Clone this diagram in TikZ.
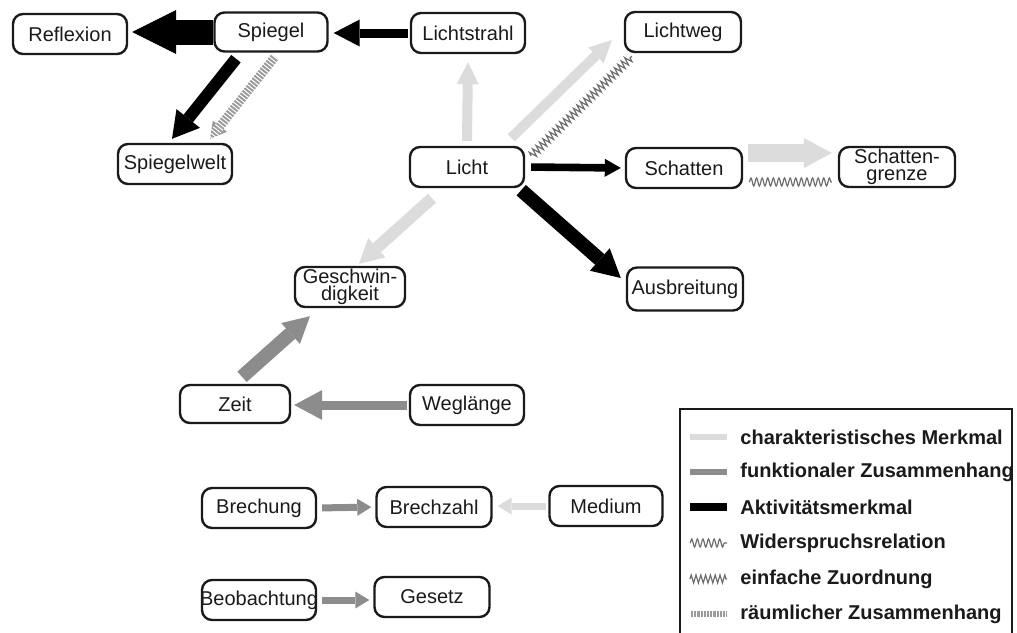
\documentclass[tikz,border=0pt]{standalone}
\usepackage{fontspec}
\setmainfont{Liberation Sans}
\usetikzlibrary{arrows.meta,calc,decorations.pathmorphing}
\definecolor{lgray}{HTML}{DCDCDC}
\definecolor{mgray}{HTML}{8C8C8C}
\definecolor{hgray}{HTML}{9A9A9A}
\definecolor{wgray}{HTML}{6E6E6E}
\definecolor{txt}{HTML}{1A1A1A}
\begin{document}
\begin{tikzpicture}[x=0.5pt,y=-0.5pt,
  box/.style={draw=txt, line width=1.2pt, rounded corners=5pt, fill=white, inner sep=0pt,
    minimum width=57pt, minimum height=20pt, font=\fontsize{10}{8.5}\selectfont, text=txt, align=center},
  fat/.style n args={4}{draw=#1, line width=#2, -{Triangle[length=#3,width=#4,line width=0pt]}},
  hatch/.style={draw=hgray, line width=4.5pt, -{Triangle[length=8pt,width=9pt,line width=0pt]},
    postaction={draw=white, line width=4.9pt, dash pattern=on 0.5pt off 1.1pt, arrows=-}},
  hatchline/.style={draw=hgray, line width=3pt,
    postaction={draw=white, line width=3.2pt, dash pattern=on 0.5pt off 1.1pt}},
  wavyA/.style={draw=wgray, line width=0.6pt, decorate, decoration={zigzag, segment length=2.4pt, amplitude=2pt}},
  wavyB/.style={draw=wgray, line width=0.6pt, decorate, decoration={snake, segment length=2.8pt, amplitude=2pt}},
  legtxt/.style={anchor=west, inner sep=0pt, font=\fontsize{10}{10}\selectfont\bfseries, text=txt}
]
\path[use as bounding box] (0,0) rectangle (1017,632);
\clip (0,0) rectangle (1017,632);

% nodes
\node[box] (refl) at (70,34) {Reflexion};
\node[box, minimum width=56.5pt, minimum height=19.5pt] (spiegel) at (271,32) {Spiegel};
\node[box] (lstrahl) at (468,33) {Lichtstrahl};
\node[box, minimum width=58pt] (lweg) at (683,32) {Lichtweg};
\node[box] (licht) at (467,167) {Licht};
\node[box] (swelt) at (175,164) {Spiegelwelt};
\node[box, minimum width=58pt] (schatten) at (684,168) {Schatten};
\node[box, minimum width=58pt] (sgrenze) at (897,167) {Schatten-\\grenze};
\node[box, minimum width=58pt, minimum height=21.5pt] (ausbr) at (685,289) {Ausbreitung};
\node[box, minimum width=55pt] (geschw) at (350,287) {Geschwin-\\digkeit};
\node[box, minimum width=55pt, minimum height=19pt] (zeit) at (235,404) {Zeit};
\node[box] (weg) at (467,405) {Weglänge};
\node[box] (brechung) at (259,508) {Brechung};
\node[box, minimum width=57.5pt] (brechzahl) at (434,507) {Brechzahl};
\node[box, minimum width=56.5pt] (medium) at (606,506) {Medium};
\node[box] (beob) at (259,600) {\makebox[0pt]{Beobachtung}};
\node[box, minimum width=57.5pt] (gesetz) at (432,597) {Gesetz};

% connectors
\draw[fat={black}{12.5pt}{22pt}{22pt}, shorten >=2pt] (spiegel.west) -- (spiegel.west -| refl.east);
\draw[fat={black}{4.5pt}{13pt}{13.5pt}, shorten <=1pt, shorten >=2.5pt] (lstrahl.west) -- (lstrahl.west -| spiegel.east);
\draw[fat={black}{6pt}{13pt}{15pt}] ($(spiegel.south)+(-35,6)$) -- ($(swelt.north)+(-3,-4)$);
\draw[hatch] ($(spiegel.south)+(4,4)$) -- ($(swelt.north)+(35,-4)$);
\draw[fat={lgray}{5pt}{11pt}{11pt}] ($(licht.north)+(0,-5)$) -- ($(lstrahl.south)+(0,8)$);
\draw[fat={lgray}{5pt}{11pt}{11pt}] ($(licht.north east)+(-14,-8)$) -- ($(lweg.west)+(-12,8)$);
\draw[wavyA] ($(licht.east)+(6,-11)$) -- ($(lweg.south west)+(8,3)$);
\draw[fat={black}{3.8pt}{8pt}{9pt}, shorten <=3pt, shorten >=2pt] (licht.east) -- (schatten.west);
\draw[fat={black}{7pt}{14pt}{15pt}] ($(licht.south east)+(-4,2)$) -- ($(ausbr.west)+(-5,-11)$);
\draw[fat={lgray}{9pt}{14pt}{15pt}] ($(schatten.east)+(5,-15)$) -- ($(sgrenze.west)+(-6,-14)$);
\draw[wavyB] ($(schatten.east)+(6,14)$) -- ($(sgrenze.west)+(-6,15)$);
\draw[fat={lgray}{6pt}{12pt}{13pt}] ($(licht.south)+(-35,10)$) -- ($(geschw.north)+(9,-2)$);
\draw[fat={mgray}{7pt}{13pt}{14pt}] ($(zeit.north)+(7,-7)$) -- ($(geschw.south)+(-40,8)$);
\draw[fat={mgray}{4.5pt}{14pt}{15pt}, shorten <=1pt, shorten >=1.5pt] (weg.west) -- (weg.west -| zeit.east);
\draw[fat={mgray}{3.5pt}{7pt}{8.5pt}, shorten <=2.5pt, shorten >=2pt] (brechung.east) -- (brechzahl.west);
\draw[fat={lgray}{3.5pt}{7pt}{8.5pt}, shorten <=1pt, shorten >=2.5pt] (medium.west) -- (medium.west -| brechzahl.east);
\draw[fat={mgray}{3.5pt}{7pt}{8.5pt}, shorten <=2.5pt, shorten >=2pt] (beob.east) -- (beob.east -| gesetz.west);

% legend
\draw[draw=txt, line width=0.8pt] (680,409) rectangle (1012,645);
\draw[lgray, line width=3pt] (690,437) -- (727,437);
\draw[mgray, line width=3pt] (690,472) -- (727,472);
\draw[black, line width=4pt] (690,507) -- (727,507);
\draw[wavyB] (690,543) -- (727,543);
\draw[wavyA] (690,579) -- (727,579);
\draw[hatchline] (690,614) -- (727,614);
\node[legtxt] (l1) at (740,437) {charakteristisches Merkmal};
\node[legtxt] (l2) at (740,472) {funktionaler Zusammenhang};
\node[legtxt] (l3) at (740,507) {Aktivitätsmerkmal};
\node[legtxt] (l4) at (740,543) {Widerspruchsrelation};
\node[legtxt] (l5) at (740,579) {einfache Zuordnung};
\node[legtxt] (l6) at (740,614) {räumlicher Zusammenhang};
\end{tikzpicture}
\end{document}
